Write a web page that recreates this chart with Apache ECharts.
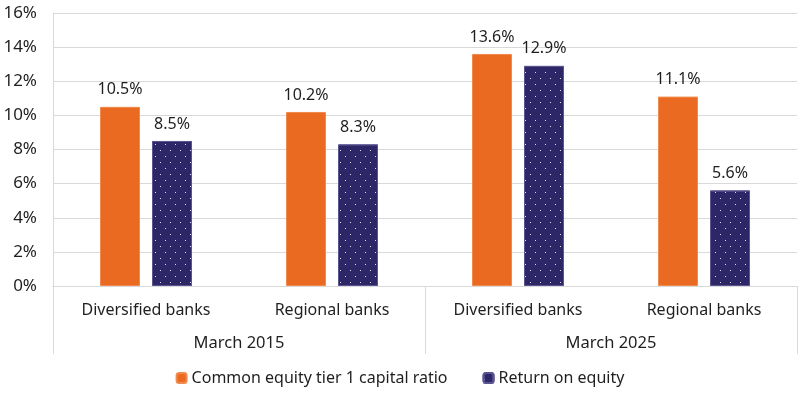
<!DOCTYPE html>
<html>
<head>
<meta charset="utf-8">
<script src="https://cdn.jsdelivr.net/npm/echarts@6/dist/echarts.min.js"></script>
<style>
	html, body { margin: 0; padding: 0; background: #fff; }
	#chart { width: 800px; height: 398px; }
</style>
</head>
<body>
<div id="chart"></div>
<script>
// 数据
const categories = ['Diversified banks', 'Regional banks', 'Diversified banks', 'Regional banks'];
const periods = ['March 2015', 'March 2025'];
const cet1Ratio = [10.5, 10.2, 13.6, 11.1];
const returnOnEquity = [8.5, 8.3, 12.9, 5.6];
const yTicks = [0, 2, 4, 6, 8, 10, 12, 14, 16];

const FONT = '"Noto Sans", "Open Sans", sans-serif';
const TEXT = '#1f1f1f';
const LINE = '#d9d9d9';

const chart = echarts.init(document.getElementById('chart'));

const labelStyle = {
	show: true,
	position: 'top',
	distance: 9,
	color: TEXT,
	fontFamily: FONT,
	fontSize: 16,
	formatter: function(p) { return p.value.toFixed(1) + '%'; }
};

const option = {
	animation: false,
	grid: { left: 53, right: 3, top: 13, bottom: 112 },
	legend: {
		bottom: 7,
		left: 'center',
		itemWidth: 10,
		itemHeight: 10,
		itemGap: 35,
		textStyle: { color: TEXT, fontFamily: FONT, fontSize: 16 },
		data: ['Common equity tier 1 capital ratio', 'Return on equity']
	},
	xAxis: [{
		type: 'category',
		data: categories,
		axisLine: { lineStyle: { color: LINE } },
		axisTick: { show: false },
		axisLabel: { color: TEXT, fontFamily: FONT, fontSize: 16, margin: 16 }
	}, {
		type: 'category',
		data: periods,
		position: 'bottom',
		axisLine: { show: false },
		axisTick: { show: true, length: 68, lineStyle: { color: LINE }, interval: 0 },
		axisLabel: { color: TEXT, fontFamily: FONT, fontSize: 16.5, margin: 49 }
	}],
	yAxis: {
		type: 'value',
		min: yTicks[0],
		max: yTicks[yTicks.length - 1],
		interval: 2,
		axisLine: { show: true, lineStyle: { color: LINE } },
		axisTick: { show: false },
		splitLine: { lineStyle: { color: LINE } },
		axisLabel: { color: TEXT, fontFamily: FONT, fontSize: 17, margin: 16, formatter: '{value}%' }
	},
	series: [{
		name: 'Common equity tier 1 capital ratio',
		type: 'bar',
		xAxisIndex: 0,
		barWidth: 40,
		barGap: '30%',
		data: cet1Ratio,
		itemStyle: { color: '#EA6A22', borderColor: '#F08A4E', borderWidth: 1 },
		label: labelStyle
	}, {
		name: 'Return on equity',
		type: 'bar',
		xAxisIndex: 0,
		barWidth: 40,
		data: returnOnEquity,
		itemStyle: {
			color: '#2E2767',
			borderColor: '#5a5490',
			borderWidth: 1,
			decal: {
				symbol: 'rect',
				symbolSize: 1,
				color: 'rgba(255,255,255,0.85)',
				dashArrayX: [[1, 9], [0, 5, 1, 4]],
				dashArrayY: [1, 5]
			}
		},
		label: labelStyle
	}]
};

chart.setOption(option);
</script>
</body>
</html>
